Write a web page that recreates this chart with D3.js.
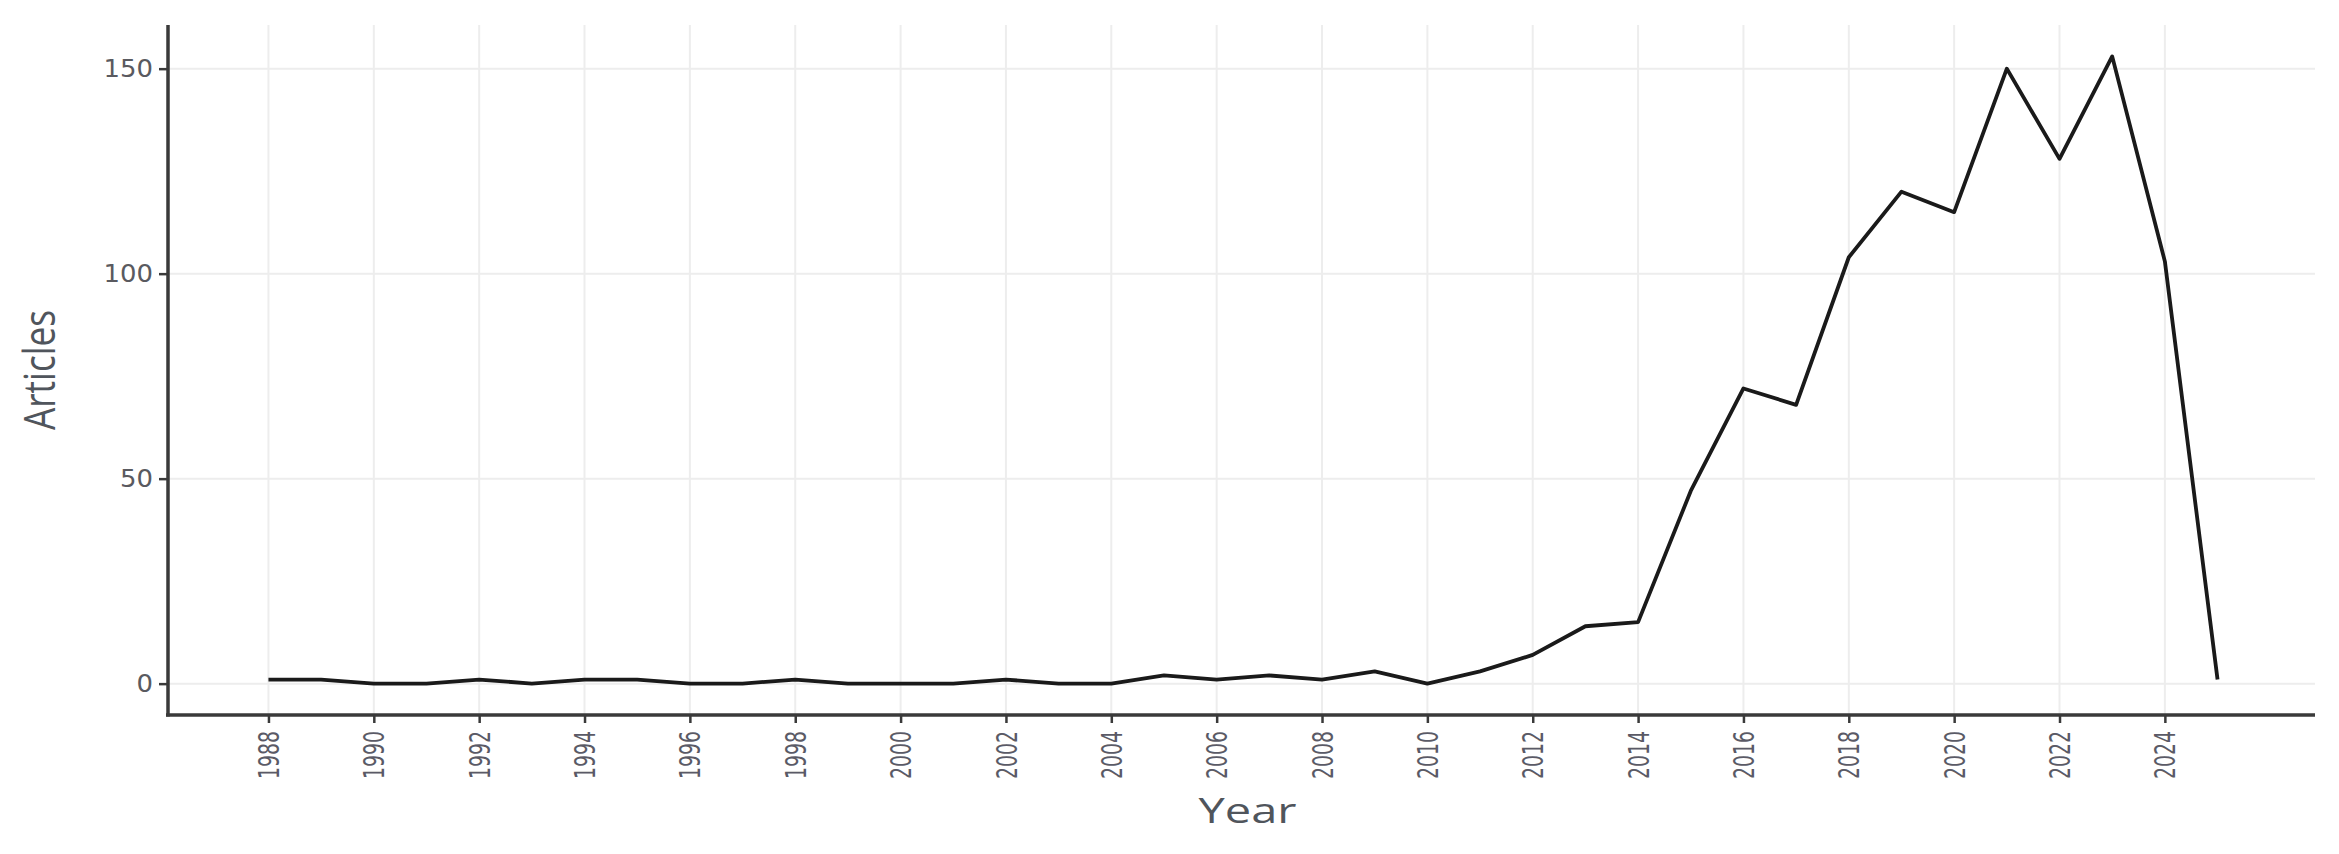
<!DOCTYPE html>
<html>
<head>
<meta charset="utf-8">
<script src="https://cdn.jsdelivr.net/npm/d3@7"></script>
<style>
  html, body { margin: 0; padding: 0; background: #ffffff; }
  svg { display: block; }
</style>
</head>
<body>
<script>
// ---- data ----
const years = [1988,1989,1990,1991,1992,1993,1994,1995,1996,1997,1998,1999,2000,2001,2002,2003,2004,2005,2006,2007,2008,2009,2010,2011,2012,2013,2014,2015,2016,2017,2018,2019,2020,2021,2022,2023,2024,2025];
const articles = [1,1,0,0,1,0,1,1,0,0,1,0,0,0,1,0,0,2,1,2,1,3,0,3,7,14,15,47,72,68,104,120,115,150,128,153,103,1];
const xTickValues = [1988,1990,1992,1994,1996,1998,2000,2002,2004,2006,2008,2010,2012,2014,2016,2018,2020,2022,2024];
const yTickValues = [0,50,100,150];
const xTitle = "Year";
const yTitle = "Articles";

// ---- layout ----
const W = 2339, H = 854;
const panel = { left: 171, right: 2315, top: 25, bottom: 715 };
const axisLeftX = 168;

const svg = d3.select("body").append("svg").attr("width", W).attr("height", H);

const xExp = (d3.max(years) - d3.min(years)) * 0.05;
const x = d3.scaleLinear()
  .domain([d3.min(years) - xExp, d3.max(years) + xExp])
  .range([panel.left, panel.right]);
const yMax = d3.max(articles);
const yExp = yMax * 0.05;
const y = d3.scaleLinear()
  .domain([0 - yExp, yMax + yExp])
  .range([panel.bottom, panel.top]);

// grid
const grid = svg.append("g");
grid.selectAll("line.vg").data(xTickValues).join("line")
  .attr("x1", d => x(d)).attr("x2", d => x(d))
  .attr("y1", panel.top).attr("y2", panel.bottom)
  .attr("stroke", "#ededed").attr("stroke-width", 2);
grid.selectAll("line.hg").data(yTickValues).join("line")
  .attr("x1", axisLeftX).attr("x2", panel.right)
  .attr("y1", d => y(d)).attr("y2", d => y(d))
  .attr("stroke", "#ededed").attr("stroke-width", 2);

// line
const line = d3.line().x((d, i) => x(years[i])).y(d => y(d));
svg.append("path").datum(articles)
  .attr("d", line)
  .attr("fill", "none")
  .attr("stroke", "#1a1a1a")
  .attr("stroke-width", 3.8)
  .attr("stroke-linejoin", "round");

// x axis
const xAxis = d3.axisBottom(x).tickValues(xTickValues).tickFormat(d3.format("d"))
  .tickSize(8).tickSizeOuter(0).tickPadding(10);
const gx = svg.append("g").attr("transform", `translate(0,${panel.bottom})`).call(xAxis);
gx.select(".domain").attr("stroke", "#3a3a3a").attr("stroke-width", 3.5)
  .attr("d", `M${axisLeftX - 2},0H${panel.right}`);
gx.selectAll(".tick line").attr("stroke", "#3a3a3a").attr("stroke-width", 2.5);
gx.selectAll(".tick text")
  .attr("font-family", "DejaVu Sans, sans-serif")
  .attr("font-size", 28)
  .attr("fill", "#5a5a66")
  .attr("text-anchor", "end")
  .attr("transform", "rotate(-90)")
  .attr("x", -16)
  .attr("y", 0)
  .attr("dy", "0.36em")
  .attr("textLength", 48)
  .attr("lengthAdjust", "spacingAndGlyphs");

// y axis
const yAxis = d3.axisLeft(y).tickValues(yTickValues).tickFormat(d3.format("d"))
  .tickSize(9).tickSizeOuter(0).tickPadding(6);
const gy = svg.append("g").attr("transform", `translate(${axisLeftX},0)`).call(yAxis);
gy.select(".domain").attr("stroke", "#3a3a3a").attr("stroke-width", 3.5)
  .attr("d", `M0,${panel.top}V${panel.bottom + 1.5}`);
gy.selectAll(".tick line").attr("stroke", "#3a3a3a").attr("stroke-width", 2.5);
gy.selectAll(".tick text")
  .attr("font-family", "DejaVu Sans, sans-serif")
  .attr("font-size", 24)
  .attr("fill", "#5a5a60")
  .attr("textLength", d => String(d).length * 16.5)
  .attr("lengthAdjust", "spacingAndGlyphs");

// axis titles
svg.append("text")
  .attr("x", (axisLeftX + panel.right) / 2 + 6)
  .attr("y", 823)
  .attr("text-anchor", "middle")
  .attr("font-family", "Open Sans, sans-serif")
  .attr("font-size", 35)
  .attr("fill", "#50555c")
  .attr("textLength", 98)
  .attr("lengthAdjust", "spacingAndGlyphs")
  .text(xTitle);

svg.append("text")
  .attr("transform", `translate(55,370) rotate(-90)`)
  .attr("text-anchor", "middle")
  .attr("font-family", "Open Sans, sans-serif")
  .attr("font-size", 43)
  .attr("fill", "#50555c")
  .attr("textLength", 120)
  .attr("lengthAdjust", "spacingAndGlyphs")
  .text(yTitle);
</script>
</body>
</html>
